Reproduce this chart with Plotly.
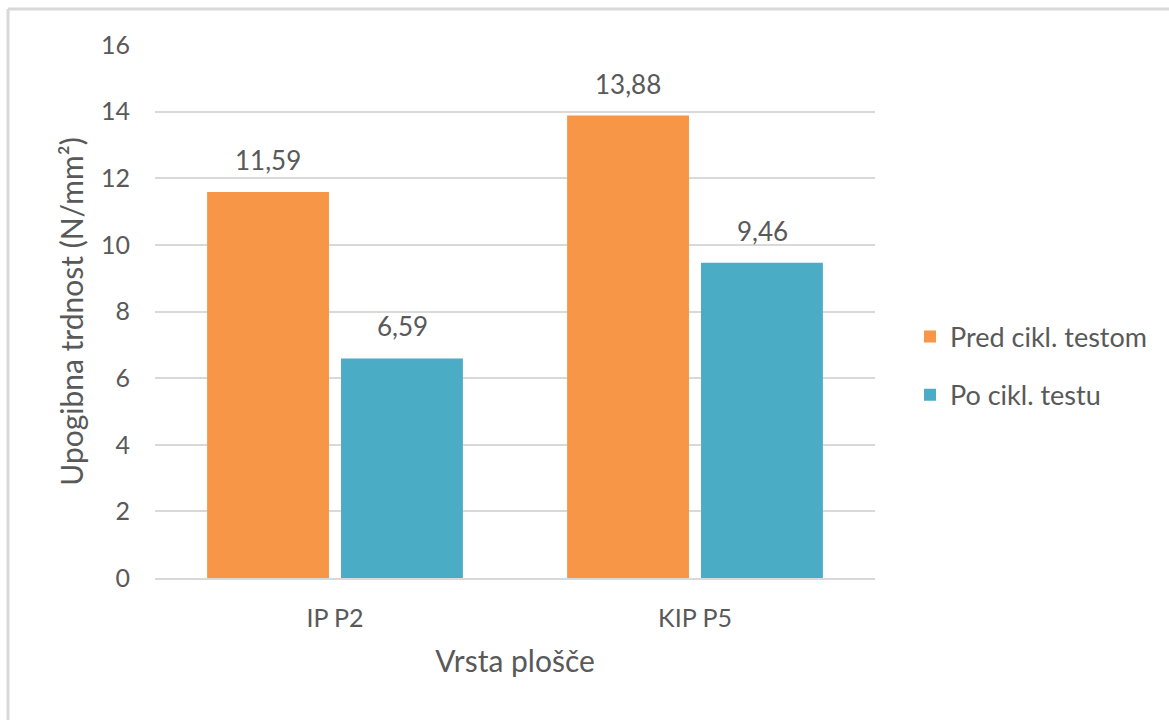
import plotly.graph_objects as go

# Bending strength of the plates before and after cyclic testing
categories = ["IP P2", "KIP P5"]
pred_testom = [11.59, 13.88]
po_testu = [6.59, 9.46]
y_ticks = [0, 2, 4, 6, 8, 10, 12, 14, 16]

TEXT = "#595959"
FONT = "Lato, Open Sans, sans-serif"
SIZE = 25

fig = go.Figure()
series = [
    ("Pred cikl. testom", pred_testom, "#F79646", -67),
    ("Po cikl. testu", po_testu, "#4BACC6", 67),
]
for i, (name, vals, color, shift) in enumerate(series):
    fig.add_trace(go.Bar(
        x=categories, y=vals, name=name, legendgroup=f"g{i}",
        marker=dict(color=color, line=dict(width=0)),
    ))
    # value labels above each bar
    for cat, v in zip(categories, vals):
        fig.add_annotation(
            x=cat, y=v, xref="x", yref="y", xshift=shift, yshift=14,
            text=f"{v:.2f}".replace(".", ","), showarrow=False,
            yanchor="bottom", font=dict(size=26, color=TEXT, family=FONT),
        )

W, H = 1169, 720
L, R, T, B = 155, 294, 45, 142
pw, ph = W - L - R, H - T - B

def px(x):
    return (x - L) / pw

def py(y):
    return (H - B - y) / ph

fig.update_layout(
    width=W, height=H,
    margin=dict(l=L, r=R, t=T, b=B),
    paper_bgcolor="white", plot_bgcolor="white",
    barmode="group", bargap=0.256, bargroupgap=0.09,
    separators=",.",
    font=dict(family=FONT, color=TEXT, size=SIZE),
    legend=dict(
        x=px(910), y=py(366), xanchor="left", yanchor="middle",
        font=dict(size=27, color=TEXT, family=FONT),
        itemwidth=30, tracegroupgap=20, bgcolor="rgba(0,0,0,0)",
    ),
    xaxis=dict(
        showgrid=False, showline=True, linecolor="#d9d9d9", linewidth=2,
        ticks="", tickfont=dict(size=SIZE, color=TEXT), ticklabelstandoff=17,
        title=dict(text="Vrsta plošče", font=dict(size=30, color=TEXT), standoff=20),
    ),
    yaxis=dict(
        range=[0, 16], tickvals=y_ticks, showgrid=True, gridcolor="#d9d9d9", gridwidth=2,
        zeroline=False, showline=False, ticks="",
        tickfont=dict(size=SIZE, color=TEXT), ticklabelstandoff=24,
        title=dict(text="Upogibna trdnost (N/mm²)", font=dict(size=30, color=TEXT), standoff=8),
    ),
    shapes=[
        dict(type="line", xref="paper", yref="paper", x0=px(8), x1=px(1169), y0=py(9), y1=py(9),
             line=dict(color="#d9d9d9", width=3)),
        dict(type="line", xref="paper", yref="paper", x0=px(8), x1=px(8), y0=py(9), y1=py(720),
             line=dict(color="#d9d9d9", width=3)),
    ],
)

fig.write_html("out.html")
